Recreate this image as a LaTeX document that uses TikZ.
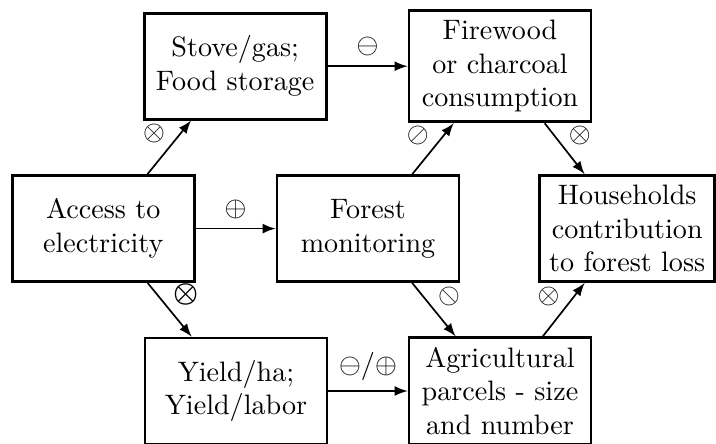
\documentclass[tikz,border=0pt]{standalone}
\usepackage{amsmath}
\usepackage{stmaryrd}

\tikzset{box/.style={draw, line width=1pt, minimum width=2.275cm, minimum height=1.325cm, align=center},
  sign/.style={inner sep=1.2pt}}

\begin{document}
\begin{tikzpicture}[>=latex, semithick]
\useasboundingbox (0,0) rectangle (8.95,5.5375);
\node[box] (access) at (1.29,2.68) {Access to\\electricity};
\node[box] (stove) at (2.94,4.71) {Stove/gas;\\Food storage};
\node[box] (fire) at (6.25,4.71) {Firewood\\or charcoal\\consumption};
\node[box] (forest) at (4.6,2.68) {Forest\\monitoring};
\node[box, minimum width=0pt] (house) at (7.84,2.68) {Households\\contribution\\to forest loss};
\node[box] (yield) at (2.95,0.65) {Yield/ha;\\Yield/labor};
\node[box] (agri) at (6.25,0.65) {Agricultural\\parcels - size\\and number};
%\draw[help lines] (0,0) grid (9,6);
\draw[->] (access) -- node[sign, above left] {$\otimes$} (stove);
\draw[->] (access) -- node[above] {$\oplus$} (forest);
\draw[->] (access) -- node[sign, above right] {$\boldsymbol{\otimes}$} (yield);
\draw[->] (stove) -- node[above] {$\ominus$} (fire);
\draw[->] (forest) -- node[sign, above left] {$\oslash$} (fire);
\draw[->] (forest) -- node[sign, above right] {$\obslash$} (agri);
\draw[->] (fire) -- node[sign, above right] {$\otimes$} (house);
\draw[->] (agri) -- node[sign, above left] {$\otimes$} (house);
\draw[->] (yield) -- node[above] {$\ominus/\oplus$} (agri);
\end{tikzpicture}
\end{document}
